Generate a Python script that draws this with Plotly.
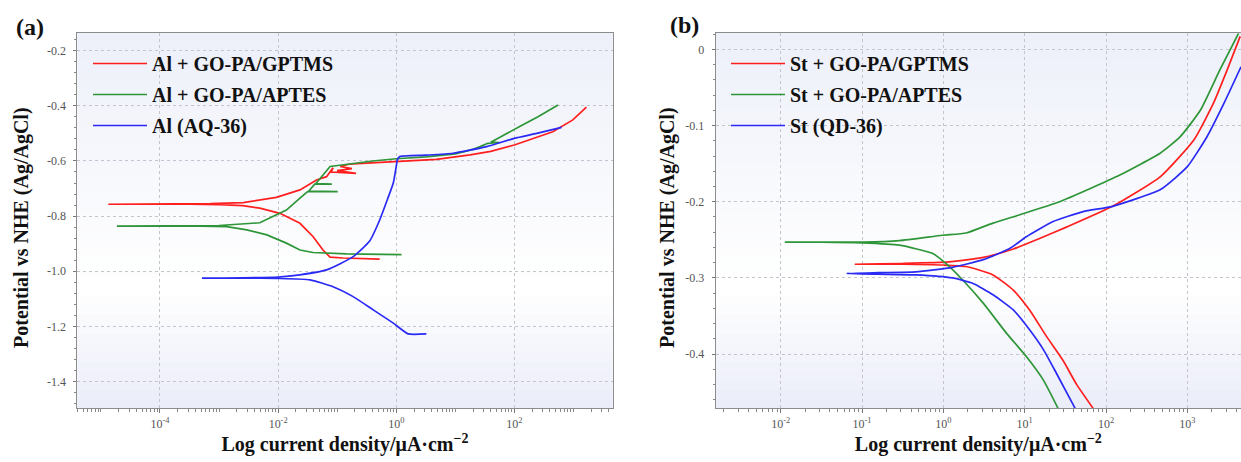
import plotly.graph_objects as go

# ---------------- Data (log10 of current density in uA/cm2, potential V) ----------------
# Panel (a) - aluminium
a_gptms_logi = [-0.28, -0.6, -0.9, -1.12, -1.24, -1.41, -1.63, -1.97, -2.31, -2.6, -3.0, -3.5, -4.0, -4.5, -4.875,
                -4.0, -3.15, -2.59, -2.03, -1.63, -1.35, -1.18, -1.07, -1.1, -0.68, -1.0, -0.75, -0.95, -0.8,
                -0.5, 0.0, 0.68, 1.25, 1.6, 2.0, 2.65, 2.99, 3.22]
a_gptms_e = [-0.956, -0.955, -0.952, -0.949, -0.923, -0.874, -0.826, -0.79, -0.771, -0.762, -0.758, -0.757, -0.757, -0.757, -0.757,
             -0.756, -0.755, -0.751, -0.732, -0.705, -0.669, -0.657, -0.625, -0.64, -0.645, -0.635, -0.628, -0.62, -0.612,
             -0.608, -0.602, -0.594, -0.578, -0.565, -0.542, -0.494, -0.451, -0.405]

a_aptes_logi = [0.09, -0.3, -0.84, -1.41, -1.63, -1.86, -2.19, -2.53, -2.87, -3.3, -4.0, -4.73,
                -4.0, -3.0, -2.31, -2.08, -1.86, -1.63, -1.5, -0.99, -1.48, -1.38, -1.09, -1.36, -1.12,
                -0.95, -0.7, -0.4, 0.0, 0.5, 1.0, 1.3, 1.42, 1.55, 1.75, 1.6, 2.09, 2.4, 2.74]
a_aptes_e = [-0.94, -0.939, -0.937, -0.932, -0.923, -0.898, -0.868, -0.85, -0.838, -0.836, -0.836, -0.836,
             -0.835, -0.834, -0.824, -0.802, -0.778, -0.735, -0.711, -0.711, -0.709, -0.684, -0.684, -0.682, -0.62,
             -0.615, -0.61, -0.6, -0.592, -0.585, -0.574, -0.558, -0.548, -0.536, -0.533, -0.532, -0.475, -0.44, -0.397]

a_bare_logi = [0.51, 0.2, -0.05, -0.39, -0.73, -1.07, -1.46, -2.0, -2.6, -3.29,
               -2.6, -2.0, -1.74, -1.18, -0.73, -0.45, -0.28, -0.15, -0.05, 0.0, 0.02, 0.06,
               0.5, 0.96, 1.53, 2.0, 2.38, 2.8]
a_bare_e = [-1.227, -1.227, -1.188, -1.14, -1.092, -1.056, -1.031, -1.026, -1.025, -1.025,
            -1.024, -1.021, -1.016, -0.995, -0.947, -0.89, -0.814, -0.74, -0.68, -0.62, -0.595, -0.584,
            -0.579, -0.572, -0.548, -0.518, -0.5, -0.478]

# Panel (b) - steel
b_gptms_logi = [1.84, 1.64, 1.47, 1.27, 1.06, 0.86, 0.61, 0.28, 0.0, -0.5, -1.09,
                -0.5, 0.07, 0.49, 0.86, 1.19, 1.52, 2.08, 2.67, 3.08, 3.32, 3.49, 3.65]
b_gptms_e = [-0.471, -0.44, -0.408, -0.377, -0.342, -0.316, -0.296, -0.285, -0.283, -0.282, -0.282,
             -0.281, -0.279, -0.273, -0.262, -0.248, -0.233, -0.206, -0.167, -0.119, -0.071, -0.027, 0.017]

b_aptes_logi = [1.41, 1.23, 1.02, 0.78, 0.49, 0.24, 0.03, -0.13, -0.54, -1.0, -1.5, -1.95,
                -1.5, -0.99, -0.54, -0.01, 0.28, 0.61, 0.94, 1.43, 1.8, 2.17, 2.67, 2.91, 3.16, 3.40, 3.63]
b_aptes_e = [-0.471, -0.434, -0.403, -0.373, -0.333, -0.303, -0.281, -0.268, -0.257, -0.254, -0.253, -0.253,
             -0.253, -0.253, -0.251, -0.244, -0.241, -0.228, -0.217, -0.2, -0.183, -0.165, -0.136, -0.115, -0.08, -0.027, 0.021]

b_bare_logi = [1.62, 1.39, 1.23, 1.06, 0.86, 0.61, 0.36, 0.11, -0.34, -0.8, -1.19,
               -0.8, -0.34, 0.11, 0.49, 0.82, 1.02, 1.35, 1.72, 2.08, 2.67, 3.0, 3.24, 3.45, 3.66]
b_bare_e = [-0.471, -0.425, -0.394, -0.368, -0.342, -0.322, -0.307, -0.3, -0.296, -0.295, -0.294,
            -0.293, -0.292, -0.286, -0.276, -0.261, -0.246, -0.226, -0.213, -0.206, -0.184, -0.154, -0.115, -0.071, -0.023]

names_a = ["Al + GO-PA/GPTMS", "Al + GO-PA/APTES", "Al (AQ-36)"]
names_b = ["St + GO-PA/GPTMS", "St + GO-PA/APTES", "St (QD-36)"]
colors = ["#ff1f1f", "#2e9638", "#2a2af5"]
shapes_a = ["linear", "linear", "spline"]

xa_tickvals = [1e-4, 1e-2, 1e0, 1e2]
xa_ticktext = ["10<sup>-4</sup>", "10<sup>-2</sup>", "10<sup>0</sup>", "10<sup>2</sup>"]
xb_tickvals = [1e-2, 1e-1, 1e0, 1e1, 1e2, 1e3]
xb_ticktext = ["10<sup>-2</sup>", "10<sup>-1</sup>", "10<sup>0</sup>", "10<sup>1</sup>", "10<sup>2</sup>", "10<sup>3</sup>"]
ya_tickvals = [-1.4, -1.2, -1.0, -0.8, -0.6, -0.4, -0.2]
ya_ticktext = ["-1.4", "-1.2", "-1.0", "-0.8", "-0.6", "-0.4", "-0.2"]
yb_tickvals = [-0.4, -0.3, -0.2, -0.1, 0.0]
yb_ticktext = ["-0.4", "-0.3", "-0.2", "-0.1", "0"]

W, H = 1241, 462
SERIF = "Liberation Serif, Times New Roman, serif"

fig = go.Figure()

series_a = [(a_gptms_logi, a_gptms_e), (a_aptes_logi, a_aptes_e), (a_bare_logi, a_bare_e)]
series_b = [(b_gptms_logi, b_gptms_e), (b_aptes_logi, b_aptes_e), (b_bare_logi, b_bare_e)]

for i, (lx, e) in enumerate(series_a):
    fig.add_trace(go.Scatter(x=[10 ** v for v in lx], y=e, mode="lines", name=names_a[i],
                             line=dict(color=colors[i], width=1.7, shape=shapes_a[i], smoothing=0.5),
                             xaxis="x", yaxis="y", legend="legend", legendgroup="a%d" % i))
for i, (lx, e) in enumerate(series_b):
    fig.add_trace(go.Scatter(x=[10 ** v for v in lx], y=e, mode="lines", name=names_b[i],
                             line=dict(color=colors[i], width=1.7, shape="spline", smoothing=0.5),
                             xaxis="x2", yaxis="y2", legend="legend2", legendgroup="b%d" % i))

# pixel geometry
xa_dom = [77.3 / W, 612.7 / W]
xb_dom = [715.7 / W, 1.0]
y_dom = [1 - 408.3 / H, 1 - 33.3 / H]

tickfont = dict(family=SERIF, size=12, color="#555555")
titlefont = dict(family=SERIF, size=20, color="#111111")

def xaxis_cfg(dom, rng, tv, tt, anchor):
    return dict(domain=dom, type="log", range=rng, anchor=anchor, automargin=False,
                tickvals=tv, ticktext=tt, tickfont=tickfont,
                ticks="outside", ticklen=4, tickcolor="#777777",
                minor=dict(ticks="outside", ticklen=3, tickcolor="#888888", dtick="D1", showgrid=False),
                showgrid=True, gridcolor="#c4c4cc", griddash="dot", gridwidth=1,
                showline=True, linecolor="#8c8c8c", linewidth=1, mirror=True,
                zeroline=False,
                title=dict(text="<b>Log current density/μA·cm<sup>−2</sup></b>", font=titlefont, standoff=6))

def yaxis_cfg(rng, tv, tt, anchor, mdt):
    return dict(domain=y_dom, range=rng, anchor=anchor, automargin=False,
                tickvals=tv, ticktext=tt, tickfont=tickfont,
                ticks="outside", ticklen=3, tickcolor="#777777", ticklabelstandoff=5,
                minor=dict(ticks="outside", ticklen=2, tickcolor="#888888", dtick=mdt, showgrid=False),
                showgrid=True, gridcolor="#c4c4cc", griddash="dot", gridwidth=1,
                showline=True, linecolor="#8c8c8c", linewidth=1, mirror=True,
                zeroline=False)

# background gradient bands (light lavender -> white -> lavender)
def lerp(c1, c2, t):
    return tuple(int(round(c1[k] + (c2[k] - c1[k]) * t)) for k in range(3))

top_c, mid_c, bot_c = (237, 240, 249), (255, 255, 255), (234, 236, 249)
mid_pos = 0.32  # fraction from bottom
nb = 40
shapes = []
for xr, yr in (("x", "y"), ("x2", "y2")):
    for k in range(nb):
        f0, f1 = k / nb, (k + 1) / nb
        fc = (f0 + f1) / 2
        if fc < mid_pos:
            c = lerp(bot_c, mid_c, fc / mid_pos)
        else:
            c = lerp(mid_c, top_c, (fc - mid_pos) / (1 - mid_pos))
        shapes.append(dict(type="rect", xref=xr + " domain", yref=yr + " domain",
                           x0=0, x1=1, y0=f0, y1=f1 + 0.002, layer="below",
                           line=dict(width=0), fillcolor="rgb(%d,%d,%d)" % c))

legend_font = dict(family=SERIF, size=20, color="#111111", weight="bold")

fig.update_layout(
    width=W, height=H,
    margin=dict(l=0, r=0, t=0, b=0, autoexpand=False),
    paper_bgcolor="white", plot_bgcolor="rgba(0,0,0,0)",
    showlegend=True,
    xaxis=xaxis_cfg(xa_dom, [-5.40, 3.665], xa_tickvals, xa_ticktext, "y"),
    yaxis=yaxis_cfg([-1.497, -0.137], ya_tickvals, ya_ticktext, "x", 0.04),
    xaxis2=xaxis_cfg(xb_dom, [-2.80, 3.66], xb_tickvals, xb_ticktext, "y2"),
    yaxis2=yaxis_cfg([-0.471, 0.021], yb_tickvals, yb_ticktext, "x2", 0.02),
    legend=dict(x=88 / W, y=1 - 44 / H, xanchor="left", yanchor="top", bgcolor="rgba(0,0,0,0)",
                font=legend_font, itemwidth=54, tracegroupgap=2),
    legend2=dict(x=726 / W, y=1 - 44 / H, xanchor="left", yanchor="top", bgcolor="rgba(0,0,0,0)",
                 font=legend_font, itemwidth=54, tracegroupgap=2),
    shapes=shapes,
    annotations=[
        dict(text="<b>(a)</b>", x=30 / W, y=1 - 27 / H, xref="paper", yref="paper", xanchor="center",
             yanchor="middle", showarrow=False, font=dict(family=SERIF, size=24, color="#111111")),
        dict(text="<b>(b)</b>", x=684 / W, y=1 - 25 / H, xref="paper", yref="paper", xanchor="center",
             yanchor="middle", showarrow=False, font=dict(family=SERIF, size=24, color="#111111")),
        dict(text="<b>Potential vs NHE (Ag/AgCl)</b>", x=22 / W, y=1 - 228 / H, xref="paper", yref="paper",
             xanchor="center", yanchor="middle", textangle=-90, showarrow=False, font=titlefont),
        dict(text="<b>Potential vs NHE (Ag/AgCl)</b>", x=668 / W, y=1 - 228 / H, xref="paper", yref="paper",
             xanchor="center", yanchor="middle", textangle=-90, showarrow=False, font=titlefont),
    ],
)

fig.write_html("out.html", config={"displayModeBar": False},
               post_script="document.body.style.margin='0';document.body.style.overflow='hidden';")
